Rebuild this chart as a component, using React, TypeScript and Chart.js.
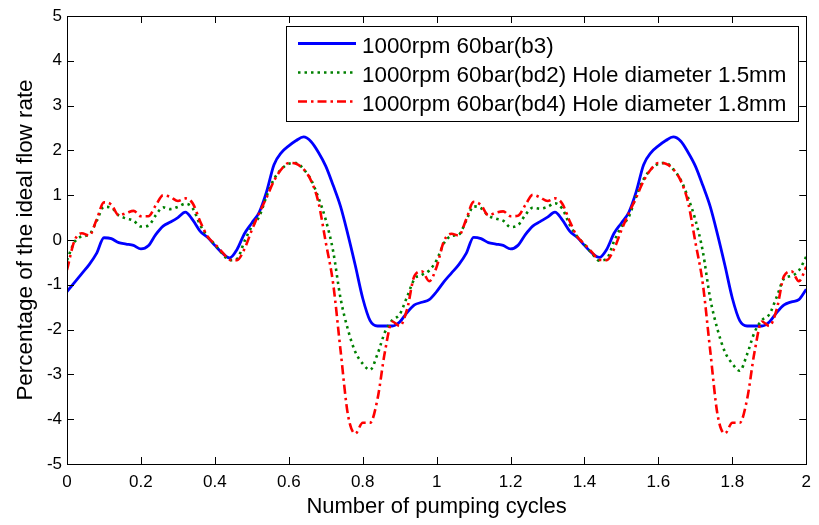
import React, { useEffect, useRef } from 'react';
import { Chart, registerables } from 'chart.js';

Chart.register(...registerables);

// sample positions along the pumping-cycle axis (0 .. 2, step 0.02)
const cycles: number[] = Array.from({ length: 101 }, (_, i) => i / 50);

const seriesLabels = [
  '1000rpm 60bar(b3)',
  '1000rpm 60bar(bd2) Hole diameter 1.5mm',
  '1000rpm 60bar(bd4) Hole diameter 1.8mm',
];

const b3 = [
  -1.15, -0.95, -0.75, -0.55, -0.30, 0.05, 0.03, -0.06, -0.09, -0.12,
  -0.20, -0.13, 0.12, 0.31, 0.40, 0.50, 0.62, 0.45, 0.20, 0.06,
  -0.12, -0.29, -0.40, -0.21, 0.14, 0.38, 0.62, 1.08, 1.68, 1.95,
  2.10, 2.22, 2.30, 2.20, 1.96, 1.65, 1.22, 0.75, 0.12, -0.57,
  -1.30, -1.80, -1.92, -1.92, -1.92, -1.83, -1.62, -1.45, -1.39, -1.33,
  -1.15, -0.93, -0.74, -0.55, -0.30, 0.06, 0.03, -0.06, -0.09, -0.12,
  -0.20, -0.12, 0.12, 0.31, 0.41, 0.51, 0.62, 0.45, 0.20, 0.06,
  -0.12, -0.29, -0.39, -0.21, 0.15, 0.38, 0.62, 1.08, 1.68, 1.95,
  2.10, 2.22, 2.30, 2.21, 1.96, 1.65, 1.22, 0.75, 0.12, -0.57,
  -1.30, -1.80, -1.92, -1.92, -1.92, -1.83, -1.62, -1.45, -1.38, -1.33,
  -1.10,
];

const bd2 = [
  -0.45, -0.05, 0.08, 0.12, 0.42, 0.74, 0.72, 0.55, 0.48, 0.43,
  0.30, 0.32, 0.55, 0.73, 0.69, 0.74, 0.81, 0.71, 0.34, 0.08,
  -0.10, -0.30, -0.45, -0.42, -0.03, 0.30, 0.52, 0.98, 1.36, 1.58,
  1.70, 1.72, 1.58, 1.35, 0.95, 0.45, -0.25, -1.30, -2.00, -2.50,
  -2.76, -2.90, -2.55, -2.06, -1.79, -1.66, -1.27, -0.87, -0.78, -0.68,
  -0.45, -0.07, 0.09, 0.12, 0.43, 0.75, 0.71, 0.54, 0.48, 0.43,
  0.29, 0.33, 0.56, 0.72, 0.70, 0.74, 0.82, 0.70, 0.34, 0.08,
  -0.10, -0.30, -0.46, -0.42, -0.03, 0.30, 0.52, 0.98, 1.36, 1.58,
  1.70, 1.72, 1.58, 1.35, 0.95, 0.45, -0.25, -1.30, -2.00, -2.50,
  -2.76, -2.92, -2.55, -2.06, -1.79, -1.66, -1.27, -0.86, -0.80, -0.68,
  -0.37,
];

const bd4 = [
  -0.67, -0.02, 0.15, 0.10, 0.45, 0.84, 0.79, 0.55, 0.60, 0.65,
  0.53, 0.53, 0.77, 1.00, 0.96, 0.87, 0.93, 0.82, 0.42, 0.08,
  -0.09, -0.27, -0.44, -0.45, -0.20, 0.22, 0.60, 0.95, 1.32, 1.58,
  1.72, 1.70, 1.58, 1.33, 0.85, -0.05, -0.97, -2.46, -3.90, -4.32,
  -4.08, -4.08, -3.55, -2.50, -1.82, -1.92, -1.55, -0.80, -0.70, -0.92,
  -0.60, -0.02, 0.14, 0.10, 0.46, 0.85, 0.78, 0.55, 0.61, 0.64,
  0.53, 0.54, 0.78, 1.01, 0.95, 0.87, 0.93, 0.81, 0.42, 0.08,
  -0.09, -0.27, -0.44, -0.45, -0.20, 0.22, 0.60, 0.95, 1.32, 1.58,
  1.72, 1.70, 1.58, 1.33, 0.85, -0.05, -0.97, -2.46, -3.90, -4.32,
  -4.08, -4.08, -3.55, -2.50, -1.82, -1.92, -1.55, -0.80, -0.70, -0.92,
  -0.60,
];

const xTicks = [0, 0.2, 0.4, 0.6, 0.8, 1, 1.2, 1.4, 1.6, 1.8, 2];
const yTicks = [-5, -4, -3, -2, -1, 0, 1, 2, 3, 4, 5];

const xTitle = 'Number of pumping cycles';
const yTitle = 'Percentage of the ideal flow rate';

const FONT = '"Liberation Sans", Arial, Helvetica, sans-serif';

const framePlugin = {
  id: 'frameTicks',
  afterDatasetsDraw(chart: any) {
    const { ctx, chartArea: a, scales } = chart;
    const x = scales.x;
    const y = scales.y;
    const L = 7;
    ctx.save();
    ctx.strokeStyle = '#000';
    ctx.lineWidth = 1;
    ctx.setLineDash([]);
    ctx.beginPath();
    x.ticks.forEach((t: any) => {
      const px = Math.round(x.getPixelForValue(t.value)) + 0.5;
      ctx.moveTo(px, a.bottom);
      ctx.lineTo(px, a.bottom - L);
      ctx.moveTo(px, a.top);
      ctx.lineTo(px, a.top + L);
    });
    y.ticks.forEach((t: any) => {
      const py = Math.round(y.getPixelForValue(t.value)) + 0.5;
      ctx.moveTo(a.left, py);
      ctx.lineTo(a.left + L, py);
      ctx.moveTo(a.right, py);
      ctx.lineTo(a.right - L, py);
    });
    ctx.stroke();
    ctx.strokeRect(Math.round(a.left) + 0.5, Math.round(a.top) + 0.5, Math.round(a.right - a.left), Math.round(a.bottom - a.top));
    ctx.restore();
  },
};

const legendPlugin = {
  id: 'boxLegend',
  afterDraw(chart: any) {
    const { ctx, chartArea: a } = chart;
    const dsets = chart.data.datasets;
    ctx.save();
    ctx.font = `22.4px ${FONT}`;
    let maxW = 0;
    dsets.forEach((d: any) => {
      maxW = Math.max(maxW, ctx.measureText(d.label).width);
    });
    const padL = 12, sample = 58, gap = 6, padR = 12;
    const w = padL + sample + gap + maxW + padR;
    const right = Math.round(a.right - 8);
    const left = Math.round(right - w);
    const top = Math.round(a.top + 10);
    const rowH = 29;
    const h = 95;
    ctx.fillStyle = '#fff';
    ctx.fillRect(left, top, right - left, h);
    ctx.strokeStyle = '#000';
    ctx.lineWidth = 1;
    ctx.setLineDash([]);
    ctx.strokeRect(left + 0.5, top + 0.5, right - left, h);
    dsets.forEach((d: any, i: number) => {
      const ry = top + 17.5 + i * rowH;
      ctx.beginPath();
      ctx.strokeStyle = d.borderColor;
      ctx.lineWidth = d.borderWidth;
      ctx.setLineDash(d.borderDash || []);
      ctx.moveTo(left + padL, ry);
      ctx.lineTo(left + padL + sample, ry);
      ctx.stroke();
      ctx.setLineDash([]);
      ctx.fillStyle = '#000';
      ctx.textBaseline = 'alphabetic';
      ctx.textAlign = 'left';
      ctx.fillText(d.label, left + padL + sample + gap, ry + 9);
    });
    ctx.restore();
  },
};

export default function App() {
  const ref = useRef<HTMLCanvasElement | null>(null);

  useEffect(() => {
    document.body.style.margin = '0';
    const canvas = ref.current;
    if (!canvas) return;
    const mk = (vals: number[]) => cycles.map((c, i) => ({ x: c, y: vals[i] }));
    const chart = new Chart(canvas, {
      type: 'line',
      data: {
        datasets: [
          {
            label: seriesLabels[0],
            data: mk(b3),
            borderColor: '#0000ff',
            borderWidth: 2.8,
            borderDash: [],
            order: 3,
          },
          {
            label: seriesLabels[1],
            data: mk(bd2),
            borderColor: '#008000',
            borderWidth: 2.6,
            borderDash: [2.5, 4],
            order: 2,
          },
          {
            label: seriesLabels[2],
            data: mk(bd4),
            borderColor: '#ff0000',
            borderWidth: 2.6,
            borderDash: [9, 4, 2.5, 4],
            order: 1,
          },
        ] as any,
      },
      options: {
        animation: false,
        responsive: false,
        devicePixelRatio: 1,
        parsing: false as any,
        layout: { padding: { left: 0, right: 10, top: 16, bottom: 0 } },
        elements: {
          point: { radius: 0 },
          line: { cubicInterpolationMode: 'monotone', fill: false },
        },
        plugins: {
          legend: { display: false },
          tooltip: { enabled: false },
          title: { display: false },
        },
        scales: {
          x: {
            type: 'linear',
            min: 0,
            max: 2,
            afterBuildTicks: (s: any) => {
              s.ticks = xTicks.map((v) => ({ value: v }));
            },
            afterFit: (s: any) => {
              s.height = 61;
            },
            grid: { display: false, drawTicks: false },
            border: { display: false },
            ticks: {
              color: '#000',
              padding: 8,
              maxRotation: 0,
              autoSkip: false,
              font: { size: 17, family: FONT },
              callback: (v: any) => String(Math.round(Number(v) * 10) / 10),
            },
            title: {
              display: true,
              text: xTitle,
              color: '#000',
              font: { size: 22, family: FONT },
              padding: { top: 0, bottom: 5 },
            },
          },
          y: {
            type: 'linear',
            min: -5,
            max: 5,
            afterBuildTicks: (s: any) => {
              s.ticks = yTicks.map((v) => ({ value: v }));
            },
            afterFit: (s: any) => {
              s.width = 67;
            },
            grid: { display: false, drawTicks: false },
            border: { display: false },
            ticks: {
              color: '#000',
              padding: 5,
              autoSkip: false,
              font: { size: 17, family: FONT },
              callback: (v: any) => String(v),
            },
            title: {
              display: true,
              text: yTitle,
              color: '#000',
              font: { size: 22.4, family: FONT },
              padding: { top: 12, bottom: 0 },
            },
          },
        },
      } as any,
      plugins: [framePlugin, legendPlugin],
    });
    return () => chart.destroy();
  }, []);

  return (
    <div style={{ position: 'absolute', left: 0, top: 0, width: 819, height: 525, background: '#fff' }}>
      <canvas ref={ref} width={819} height={525} style={{ display: 'block' }} />
    </div>
  );
}
